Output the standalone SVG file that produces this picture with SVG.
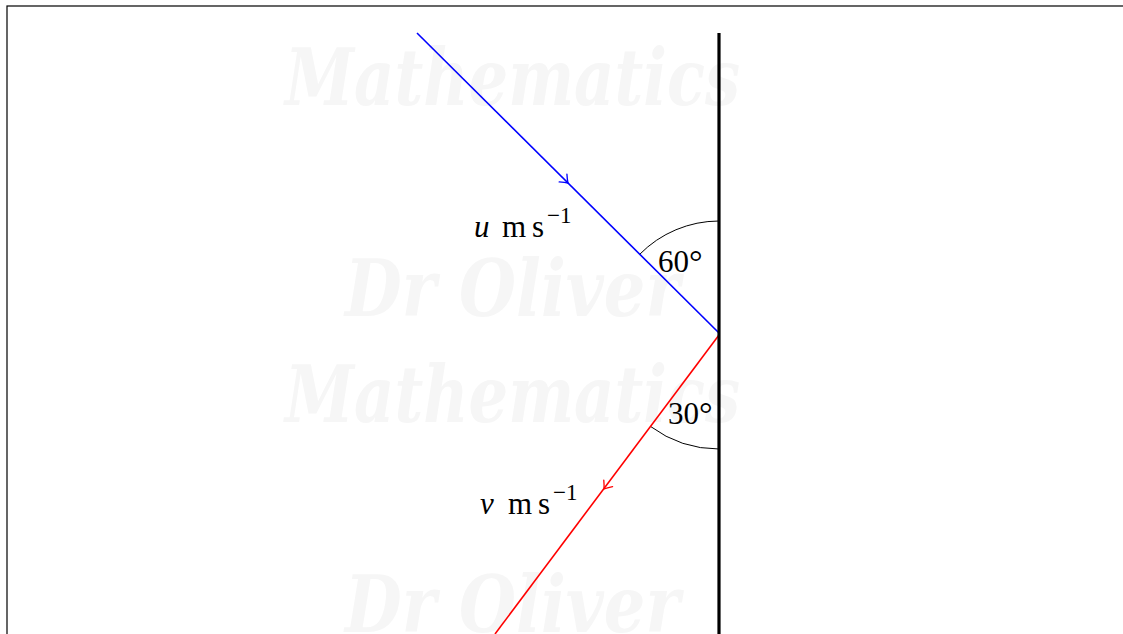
<svg xmlns="http://www.w3.org/2000/svg" width="1123" height="634" viewBox="0 0 1123 634">
<style>
.wm{font-family:"DejaVu Serif",serif;font-style:italic;font-weight:bold;font-size:78px;fill:#f6f6f6}
.lbl{font-family:"Liberation Serif","DejaVu Serif",serif;font-size:31px;fill:#000}
.sup{font-size:23px}
.deg{font-size:34px}
.arc{fill:none;stroke:#000;stroke-width:1}
</style>
<defs>
<path id="chev" d="M -7,-5.5 Q -2.5,-1.5 0,0 Q -2.5,1.5 -7,5.5" fill="none" stroke-width="1.3" stroke-linecap="round"/>
</defs>
<rect x="0" y="0" width="1123" height="634" fill="#fff"/>
<rect x="7" y="6" width="1130" height="640" fill="none" stroke="#000" stroke-width="1.2"/>
<g id="watermark">
<text class="wm" x="285" y="105" textLength="455" lengthAdjust="spacingAndGlyphs">Mathematics</text>
<text class="wm" x="345" y="316" textLength="335" lengthAdjust="spacingAndGlyphs">Dr Oliver</text>
<text class="wm" x="285" y="422" textLength="455" lengthAdjust="spacingAndGlyphs">Mathematics</text>
<text class="wm" x="345" y="632" textLength="335" lengthAdjust="spacingAndGlyphs">Dr Oliver</text>
</g>
<g id="connectors">
<path class="arc" d="M 719,221 A 112,112 0 0 0 639.6,254.4"/>
<path class="arc" d="M 719,449 A 115,115 0 0 1 650.3,426.3"/>
<line x1="417" y1="33" x2="719" y2="333" stroke="#0000ff" stroke-width="1.6"/>
<use href="#chev" transform="translate(568,183) rotate(44.8)" stroke="#0000ff"/>
<line x1="719" y1="335" x2="495" y2="634" stroke="#ff0000" stroke-width="1.6"/>
<use href="#chev" transform="translate(604,489) rotate(126.8)" stroke="#ff0000"/>
</g>
<g id="wall">
<line x1="719" y1="33" x2="719" y2="640" stroke="#000" stroke-width="3.2"/>
</g>
<g id="label-u">
<text class="lbl" y="237"><tspan x="474" font-style="italic">u</tspan><tspan x="502">m</tspan><tspan x="532">s</tspan><tspan x="547" dy="-14" class="sup">−1</tspan></text>
</g>
<g id="label-v">
<text class="lbl" y="514"><tspan x="480" font-style="italic">v</tspan><tspan x="508">m</tspan><tspan x="538">s</tspan><tspan x="553" dy="-14" class="sup">−1</tspan></text>
</g>
<g id="label-60">
<text class="lbl" x="658" y="272">60<tspan class="deg" dy="1">°</tspan></text>
</g>
<g id="label-30">
<text class="lbl" x="668" y="424">30<tspan class="deg" dy="1">°</tspan></text>
</g>
</svg>
